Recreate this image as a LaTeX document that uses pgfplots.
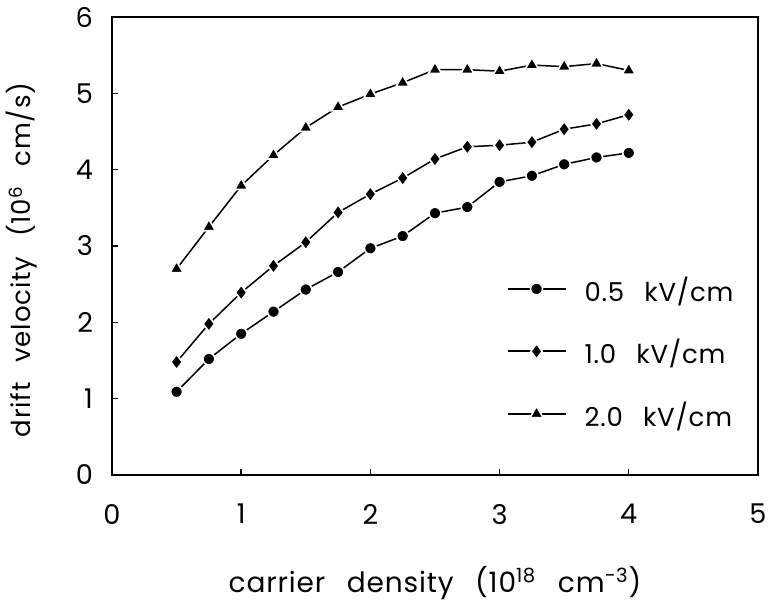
\documentclass[border=0pt]{standalone}
\usepackage{fontspec}
\setmainfont[WordSpace=2.6, LetterSpace=3]{Poppins}
\usepackage{pgfplots}
\pgfplotsset{compat=1.18}
\begin{document}
\begin{tikzpicture}
\begin{axis}[
  scale only axis, width=323pt, height=229pt,
  xmin=0, xmax=5, ymin=0, ymax=6,
  xtick={0,1,2,3,4,5}, ytick={0,1,2,3,4,5,6},
  tick align=inside, major tick length=3pt,
  xtick pos=bottom, ytick pos=left,
  axis line style={line width=0.8pt},
  tick style={line width=0.7pt, black},
  /pgf/number format/assume math mode=true,
  ticklabel style={font=\fontsize{13.6}{16}\selectfont},
  xticklabel style={yshift=-11pt},
  yticklabel style={xshift=-6pt},
  xlabel={carrier density (10\textsuperscript{18} cm\textsuperscript{−3})},
  ylabel={drift velocity (10\textsuperscript{6} cm/s)},
  xlabel style={font=\fontsize{14}{17}\selectfont, at={(axis description cs:0.5,0)}, anchor=center, yshift=-54pt},
  ylabel style={font=\fontsize{13}{16}\selectfont, at={(axis description cs:0,0.5)}, anchor=center, yshift=45pt, xshift=-7pt},
  legend style={draw=none, fill=none, at={(rel axis cs:0.61,0.434)}, anchor=north west,
    font=\fontsize{13}{15}\selectfont, row sep=19pt, inner sep=0pt,
    nodes={inner sep=0pt, text depth=0pt},
    /tikz/every odd column/.append style={column sep=9pt}},
  legend cell align=left,
  legend image code/.code={
    \draw[mark=none, line width=1.1pt] (0pt,0pt) -- (29pt,0pt);
    \path[draw=none] plot coordinates {(14.5pt,0pt)};},
  every axis plot/.append style={black, line width=0.75pt},
]
\addplot[mark=*, mark size=3pt, mark options={fill=black, draw=white, line width=0.8pt}] coordinates {
  (0.5,1.09) (0.75,1.52) (1.0,1.85) (1.25,2.14) (1.5,2.43) (1.75,2.66) (2.0,2.97)
  (2.25,3.13) (2.5,3.43) (2.75,3.51) (3.0,3.84) (3.25,3.92) (3.5,4.07) (3.75,4.16) (4.0,4.22)};
\addlegendentry{0.5 kV/cm}
\addplot[mark=diamond*, mark size=3.8pt, mark options={fill=black, draw=white, line width=0.8pt}] coordinates {
  (0.5,1.48) (0.75,1.98) (1.0,2.39) (1.25,2.74) (1.5,3.05) (1.75,3.44) (2.0,3.68)
  (2.25,3.89) (2.5,4.14) (2.75,4.30) (3.0,4.32) (3.25,4.36) (3.5,4.53) (3.75,4.60) (4.0,4.72)};
\addlegendentry{1.0 kV/cm}
\addplot[mark=triangle*, mark size=3.8pt, mark options={fill=black, draw=white, line width=0.8pt}] coordinates {
  (0.5,2.70) (0.75,3.25) (1.0,3.79) (1.25,4.19) (1.5,4.55) (1.75,4.82) (2.0,4.99)
  (2.25,5.14) (2.5,5.31) (2.75,5.31) (3.0,5.29) (3.25,5.37) (3.5,5.35) (3.75,5.39) (4.0,5.30)};
\addlegendentry{2.0 kV/cm}
\end{axis}
\pgfresetboundingbox
\useasboundingbox (-56pt,-65pt) rectangle (328pt,237.5pt);
\end{tikzpicture}
\end{document}
